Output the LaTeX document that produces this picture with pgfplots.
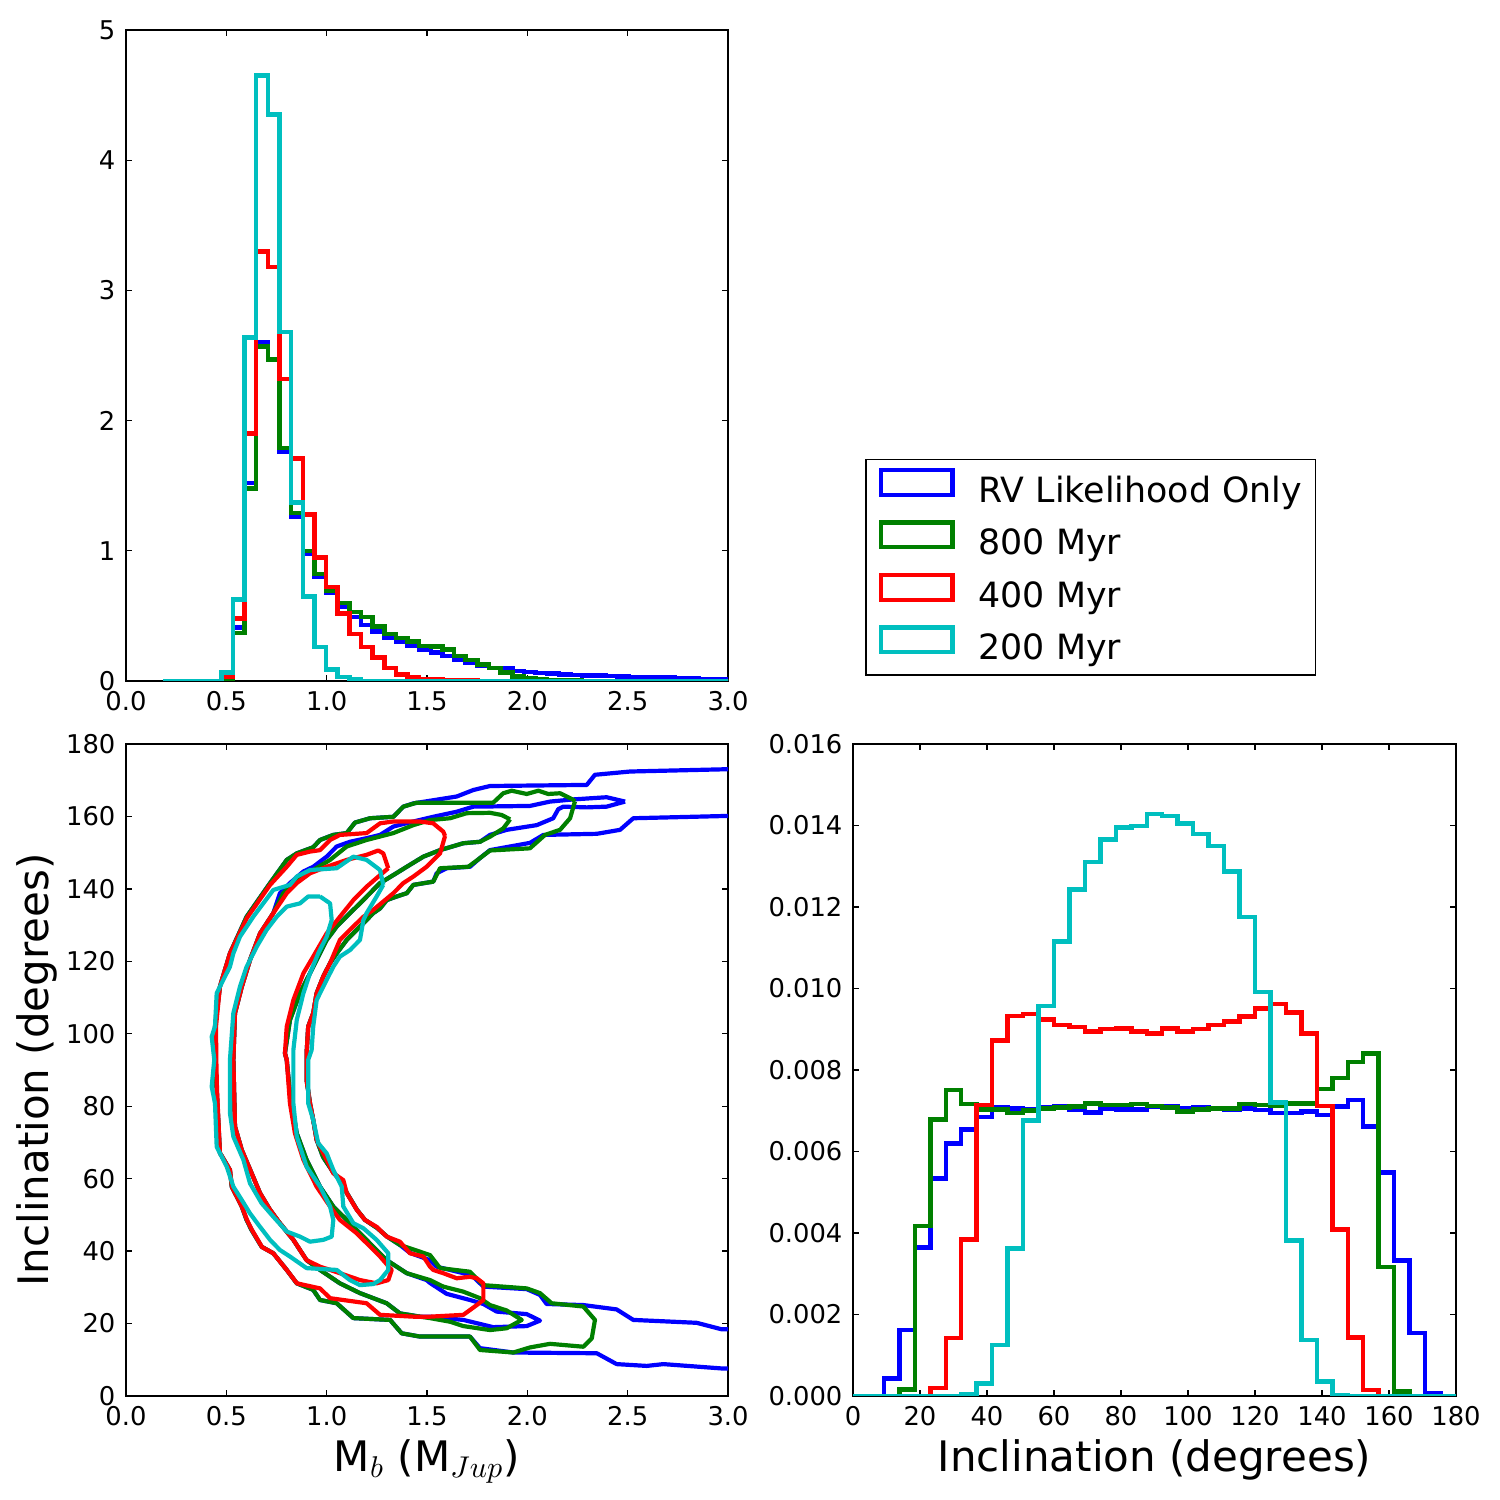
\documentclass[border=0pt]{standalone}
\usepackage{fontspec}
\setmainfont{DejaVu Sans}
\usepackage{pgfplots}
\usepackage{pgfplotstable}
\pgfplotsset{compat=1.18}
\definecolor{mblue}{rgb}{0,0,1}
\definecolor{mgreen}{rgb}{0,0.5,0}
\definecolor{mred}{rgb}{1,0,0}
\definecolor{mcyan}{rgb}{0,0.75,0.75}

\pgfplotstableread{
e b g r c
0.185 0 0 0 0
0.243 0 0 0 0
0.301 0 0 0 0
0.359 0 0 0 0
0.417 0 0 0 0
0.475 0.02 0.01 0.03 0.065
0.533 0.41 0.37 0.48 0.625
0.591 1.52 1.48 1.90 2.64
0.649 2.60 2.57 3.30 4.65
0.707 2.47 2.47 3.18 4.35
0.765 1.76 1.79 2.32 2.68
0.823 1.26 1.29 1.71 1.37
0.881 0.98 1.00 1.28 0.65
0.939 0.80 0.82 0.95 0.26
0.997 0.68 0.69 0.72 0.09
1.055 0.57 0.60 0.52 0.03
1.113 0.49 0.53 0.36 0.01
1.171 0.43 0.49 0.26 0
1.229 0.38 0.42 0.18 0
1.287 0.33 0.36 0.10 0
1.345 0.30 0.33 0.05 0
1.403 0.27 0.305 0.03 0
1.461 0.24 0.27 0.015 0
1.519 0.22 0.265 0.01 0
1.577 0.19 0.24 0.005 0
1.635 0.165 0.19 0.003 0
1.693 0.14 0.16 0.002 0
1.751 0.12 0.125 0.001 0
1.809 0.10 0.10 0 0
1.867 0.094 0.065 0 0
1.925 0.075 0.035 0 0
1.983 0.068 0.02 0 0
2.041 0.062 0.01 0 0
2.099 0.056 0.005 0 0
2.157 0.05 0.003 0 0
2.215 0.047 0.002 0 0
2.273 0.044 0.001 0 0
2.331 0.042 0.001 0 0
2.389 0.039 0 0 0
2.447 0.036 0 0 0
2.505 0.032 0 0 0
2.563 0.03 0 0 0
2.621 0.027 0 0 0
2.679 0.025 0 0 0
2.737 0.023 0 0 0
2.795 0.02 0 0 0
2.853 0.017 0 0 0
2.911 0.016 0 0 0
2.969 0.015 0 0 0
3.027 0 0 0 0
}\masstable

\pgfplotstableread{
e b g r c
0 0 0 0 0
4.615 0 0 0 0
9.231 0.00043 0 0 0
13.846 0.00162 0.00016 0 0
18.462 0.00365 0.00417 0 0
23.077 0.00534 0.00679 0.00019 0
27.692 0.00620 0.00751 0.00142 0
32.308 0.00654 0.00717 0.00384 0.00005
36.923 0.00685 0.00703 0.00714 0.00031
41.538 0.00708 0.00703 0.00872 0.00125
46.154 0.00706 0.00695 0.00933 0.00362
50.769 0.00703 0.00700 0.00937 0.00676
55.385 0.00708 0.00706 0.00924 0.00957
60.000 0.00710 0.00708 0.00910 0.01115
64.615 0.00703 0.00710 0.00906 0.01243
69.231 0.00696 0.00718 0.00894 0.01311
73.846 0.00706 0.00714 0.00900 0.01366
78.462 0.00703 0.00714 0.00902 0.01395
83.077 0.00703 0.00717 0.00894 0.01399
87.692 0.00710 0.00712 0.00890 0.01428
92.308 0.00710 0.00708 0.00902 0.01423
96.923 0.00706 0.00698 0.00894 0.01405
101.538 0.00708 0.00703 0.00900 0.01379
106.154 0.00706 0.00706 0.00910 0.01350
110.769 0.00703 0.00706 0.00919 0.01287
115.385 0.00706 0.00717 0.00931 0.01176
120.000 0.00702 0.00714 0.00951 0.00992
124.615 0.00694 0.00712 0.00962 0.00720
129.231 0.00694 0.00718 0.00941 0.00381
133.846 0.00698 0.00718 0.00890 0.00137
138.462 0.00690 0.00753 0.00712 0.00035
143.077 0.00710 0.00780 0.00409 0.00003
147.692 0.00726 0.00820 0.00144 0
152.308 0.00661 0.00841 0.00015 0
156.923 0.00548 0.00316 0 0
161.538 0.00332 0.00011 0 0
166.154 0.00155 0 0 0
170.769 0.00007 0 0 0
175.385 0 0 0 0
180 0 0 0 0
}\inctable

\pgfplotsset{
  every axis/.append style={
    scale only axis,
    axis line style={line width=0.45pt},
    tick style={black, line width=0.45pt},
    major tick length=2pt,
    tick align=inside,
    ticklabel style={font=\fontsize{8.6}{10}\selectfont},
    label style={font=\fontsize{14}{16}\selectfont},
    /pgf/number format/assume math mode=true,
    xlabel shift=-2.5pt,
    ylabel shift=-4pt,
  },
  hist/.style={const plot, line width=1.5pt, line join=miter},
  cont/.style={line width=1.4pt, line join=round},
}

\begin{document}
\begin{tikzpicture}
\path[use as bounding box] (0,0) rectangle (500pt,500pt);

% ---------- top left: mass histogram ----------
\begin{axis}[
  at={(42pt,273pt)}, anchor=south west,
  width=200.67pt, height=217pt,
  xmin=0, xmax=3, ymin=0, ymax=5,
  xtick={0,0.5,1,1.5,2,2.5,3}, ytick={0,1,2,3,4,5},
  xticklabel style={/pgf/number format/.cd, fixed, fixed zerofill, precision=1},
  legend style={at={(1.2276,0.341)}, anchor=north west, draw=black, line width=0.5pt,
    fill=white, font=\fontsize{11.6}{13}\selectfont, inner xsep=4.5pt, inner ysep=2.7pt,
    row sep=3.6pt, nodes={inner sep=0pt, text height=8.5pt, text depth=2.5pt},
    /tikz/every odd column/.append style={column sep=8pt}},
  legend cell align=left,
  legend image code/.code={\draw[#1, line width=1.4pt, fill=none] (0pt,-0.6pt) rectangle (23.7pt,7.7pt);},
]
\addplot[hist, mblue] table[x=e, y=b] {\masstable};
\addlegendentry{RV Likelihood Only}
\addplot[hist, mgreen] table[x=e, y=g] {\masstable};
\addlegendentry{800 Myr}
\addplot[hist, mred] table[x=e, y=r] {\masstable};
\addlegendentry{400 Myr}
\addplot[hist, mcyan] table[x=e, y=c] {\masstable};
\addlegendentry{200 Myr}
\end{axis}

% ---------- bottom left: contours ----------
\begin{axis}[
  at={(42pt,34.67pt)}, anchor=south west,
  width=200.67pt, height=217.33pt,
  xmin=0, xmax=3, ymin=0, ymax=180,
  xtick={0,0.5,1,1.5,2,2.5,3}, ytick={0,20,40,60,80,100,120,140,160,180},
  xticklabel style={/pgf/number format/.cd, fixed, fixed zerofill, precision=1},
  xlabel={M$_b$ (M$_{Jup}$)}, ylabel={Inclination (degrees)},
]
% blue outer (open at right edge)
\addplot[cont, mblue] coordinates {
(3.0,173.0) (2.969,173.0) (2.512,172.4) (2.337,171.5) (2.296,168.7) (1.814,168.4) (1.731,167.3) (1.648,165.5) (1.432,163.6) (1.382,162.7) (1.332,159.9) (1.216,159.5) (1.141,158.3) (1.100,155.4) (1.033,154.9) (0.967,153.5) (0.933,151.5) (0.851,149.8) (0.801,148.0) (0.718,141.6) (0.601,132.3) (0.518,122.2) (0.468,113.0) (0.4435,102.0) (0.445,92.8) (0.452,84.5) (0.468,67.1) (0.518,62.4) (0.527,57.8) (0.577,52.3) (0.601,48.6) (0.626,45.8) (0.676,41.2) (0.734,39.4) (0.801,34.8) (0.851,31.1) (0.933,29.3) (0.967,26.5) (1.050,25.6) (1.133,21.5) (1.316,21.0) (1.374,17.3) (1.465,16.4) (1.714,16.4) (1.764,13.2) (1.930,12.0) (2.346,11.8) (2.445,8.8) (2.595,8.3) (2.678,8.8) (2.969,7.6) (3.0,7.6)
};
\addplot[cont, mblue] coordinates {
(3.0,18.4) (2.969,18.4) (2.844,20.2) (2.528,21.0) (2.445,23.9) (2.279,25.1) (2.096,25.4) (2.063,27.9) (1.997,29.5) (1.781,30.2) (1.731,32.9) (1.681,33.9) (1.548,35.7) (1.515,37.5) (1.415,39.5) (1.365,41.7) (1.301,44.0) (1.251,46.4) (1.191,48.6) (1.151,51.4) (1.101,56.0) (1.066,59.6) (1.032,61.8) (0.982,66.0) (0.950,70.7) (0.933,76.2) (0.917,80.8) (0.900,87.2) (0.900,94.6) (0.908,102.0) (0.933,105.7) (0.950,111.2) (0.983,115.8) (1.017,119.5) (1.050,122.2) (1.100,125.9) (1.150,128.7) (1.199,131.4) (1.232,133.3) (1.266,134.6) (1.299,136.9) (1.349,137.9) (1.399,138.8) (1.432,141.1) (1.531,142.0) (1.548,144.3) (1.598,145.7) (1.714,146.1) (1.764,148.5) (1.814,150.7) (2.013,152.7) (2.080,154.9) (2.346,155.2) (2.462,156.3) (2.528,159.5) (2.969,160.1) (3.0,160.1)
};
% blue inner
\addplot[cont, mblue] coordinates {
(2.487,164.1) (2.395,165.3) (2.229,164.7) (2.113,164.1) (2.013,162.9) (1.731,162.7) (1.648,161.3) (1.531,159.9) (1.432,158.6) (1.332,157.2) (1.266,154.9) (1.199,154.0) (1.116,153.0) (1.050,151.7) (1.000,148.9) (0.933,146.1) (0.884,144.8) (0.817,141.6) (0.767,138.8) (0.734,133.3) (0.668,127.7) (0.618,120.4) (0.577,113.0) (0.543,105.7) (0.535,92.8) (0.543,74.4) (0.577,67.9) (0.626,61.5) (0.668,56.0) (0.718,51.4) (0.767,47.7) (0.834,43.1) (0.900,37.5) (0.967,34.8) (1.066,31.1) (1.166,28.4) (1.299,25.6) (1.365,22.8) (1.465,21.9) (1.515,21.9) (1.681,21.0) (1.830,19.0) (1.997,19.3) (2.063,20.8) (1.997,22.6) (1.847,23.3) (1.781,25.4) (1.714,26.5) (1.598,28.2) (1.515,31.2) (1.498,32.0) (1.399,33.9) (1.299,37.5) (1.232,41.2) (1.166,44.9) (1.100,48.6) (1.033,52.3) (0.967,57.8) (0.900,65.2) (0.851,72.5) (0.817,83.6) (0.801,92.8) (0.792,94.6) (0.817,103.8) (0.867,111.2) (0.933,118.5) (1.000,125.9) (1.050,129.6) (1.116,133.3) (1.166,136.0) (1.216,138.8) (1.266,141.6) (1.332,143.8) (1.399,146.1) (1.482,148.9) (1.565,150.7) (1.681,152.6) (1.764,153.0) (1.814,154.9) (1.897,156.3) (2.047,157.6) (2.129,159.5) (2.154,162.0) (2.179,162.7) (2.296,162.5) (2.395,162.7) (2.487,164.1)
};
% green outer
\addplot[cont, mgreen] coordinates {
(2.237,164.1) (2.229,164.6) (2.163,166.4) (2.104,166.2) (2.055,167.1) (1.997,166.2) (1.922,167.1) (1.880,166.4) (1.830,163.8) (1.515,163.8) (1.449,163.8) (1.382,162.7) (1.332,159.9) (1.216,159.5) (1.141,158.3) (1.100,155.4) (1.033,154.9) (0.967,153.5) (0.933,151.5) (0.851,149.8) (0.801,148.0) (0.718,141.6) (0.601,132.3) (0.518,122.2) (0.468,113.0) (0.4435,102.0) (0.445,92.8) (0.452,84.5) (0.468,67.1) (0.518,62.4) (0.527,57.8) (0.577,52.3) (0.601,48.6) (0.626,45.8) (0.676,41.2) (0.734,39.4) (0.801,34.8) (0.851,31.1) (0.933,29.3) (0.967,26.5) (1.050,25.6) (1.133,21.5) (1.316,21.0) (1.374,17.3) (1.465,16.4) (1.714,16.4) (1.764,12.7) (1.930,12.0) (2.013,13.4) (2.113,14.4) (2.279,13.6) (2.321,15.9) (2.337,21.0) (2.279,24.7) (2.121,25.6) (2.063,28.4) (1.997,29.7) (1.781,30.6) (1.714,34.3) (1.565,35.3) (1.515,38.9) (1.440,40.3) (1.365,41.7) (1.301,44.0) (1.251,46.4) (1.191,48.6) (1.151,51.4) (1.101,56.0) (1.066,59.6) (1.032,61.8) (0.982,66.0) (0.950,70.7) (0.933,76.2) (0.917,80.8) (0.900,87.2) (0.900,94.6) (0.908,102.0) (0.933,105.7) (0.950,111.2) (0.983,115.8) (1.017,119.5) (1.050,122.2) (1.100,125.9) (1.150,128.7) (1.199,131.4) (1.232,133.3) (1.266,134.6) (1.299,136.9) (1.349,137.9) (1.399,138.8) (1.432,141.1) (1.531,142.0) (1.565,145.7) (1.706,146.1) (1.764,148.5) (1.814,150.6) (2.013,151.2) (2.088,154.9) (2.163,156.3) (2.213,159.5) (2.237,164.1)
};
% green inner
\addplot[cont, mgreen] coordinates {
(1.914,159.2) (1.872,160.4) (1.814,161.0) (1.698,160.9) (1.615,159.5) (1.515,159.0) (1.432,157.6) (1.332,155.4) (1.199,153.5) (1.100,151.7) (1.017,148.0) (0.933,145.2) (0.851,142.5) (0.784,138.8) (0.734,133.3) (0.668,127.7) (0.618,120.4) (0.577,113.0) (0.543,105.7) (0.535,92.8) (0.543,74.4) (0.577,67.9) (0.626,61.5) (0.668,56.0) (0.718,51.4) (0.767,47.7) (0.834,43.1) (0.900,37.5) (0.967,34.8) (1.066,31.1) (1.166,28.4) (1.299,25.6) (1.365,22.8) (1.465,21.9) (1.515,21.5) (1.615,20.5) (1.681,19.3) (1.814,18.2) (1.897,18.7) (1.972,21.0) (1.897,23.6) (1.814,25.1) (1.764,27.0) (1.681,28.8) (1.581,30.2) (1.515,32.0) (1.399,33.9) (1.299,37.5) (1.232,41.2) (1.166,44.9) (1.100,48.6) (1.033,52.3) (0.967,57.8) (0.900,65.2) (0.851,72.5) (0.817,83.6) (0.801,92.8) (0.792,94.6) (0.817,103.8) (0.867,111.2) (0.933,118.5) (1.000,125.9) (1.050,129.6) (1.116,133.3) (1.166,136.0) (1.216,138.8) (1.266,141.6) (1.332,143.8) (1.399,146.1) (1.482,148.9) (1.565,150.7) (1.681,152.6) (1.764,153.0) (1.814,154.4) (1.880,156.7) (1.914,159.2)
};
% red outer
\addplot[cont, mred] coordinates {
(1.590,154.6) (1.581,155.8) (1.531,158.1) (1.465,158.6) (1.332,158.6) (1.266,158.1) (1.199,155.4) (1.066,154.9) (1.017,153.5) (0.967,150.7) (0.917,150.3) (0.851,149.4) (0.801,146.1) (0.718,141.1) (0.603,132.0) (0.518,122.2) (0.468,113.0) (0.4485,102.0) (0.450,92.8) (0.4535,84.5) (0.468,67.1) (0.518,62.4) (0.528,57.7) (0.578,52.2) (0.603,48.6) (0.628,45.8) (0.678,41.1) (0.734,39.4) (0.801,34.8) (0.852,31.1) (0.967,29.7) (1.017,27.0) (1.199,25.6) (1.266,22.4) (1.432,21.9) (1.515,21.9) (1.681,22.4) (1.748,25.1) (1.781,26.5) (1.781,31.1) (1.748,32.5) (1.714,32.9) (1.648,32.5) (1.581,33.9) (1.531,34.8) (1.515,35.7) (1.482,38.5) (1.415,39.4) (1.365,42.6) (1.299,44.0) (1.249,46.7) (1.191,48.6) (1.150,51.4) (1.100,56.0) (1.083,59.6) (1.033,61.5) (1.000,65.2) (0.967,68.8) (0.950,70.7) (0.933,76.2) (0.917,80.8) (0.900,87.2) (0.900,94.6) (0.908,102.0) (0.933,105.7) (0.950,111.2) (0.983,115.8) (1.017,119.5) (1.066,125.9) (1.116,128.7) (1.183,132.3) (1.232,134.2) (1.282,136.5) (1.332,138.8) (1.382,141.6) (1.432,143.4) (1.498,146.1) (1.565,149.8) (1.590,154.6)
};
% red inner
\addplot[cont, mred] coordinates {
(1.307,145.7) (1.282,149.8) (1.257,150.6) (1.199,149.4) (1.100,148.0) (1.000,146.1) (0.917,144.3) (0.851,141.6) (0.801,138.8) (0.734,133.3) (0.668,127.7) (0.618,120.4) (0.577,113.0) (0.543,105.7) (0.535,92.8) (0.543,74.4) (0.577,67.9) (0.626,61.5) (0.668,56.0) (0.718,51.4) (0.767,47.7) (0.834,43.1) (0.900,37.5) (0.967,35.7) (1.066,33.9) (1.166,32.0) (1.249,31.1) (1.307,32.0) (1.324,34.8) (1.266,38.5) (1.199,42.2) (1.150,44.9) (1.066,48.6) (1.017,52.3) (0.950,57.8) (0.884,65.2) (0.842,72.5) (0.817,80.8) (0.801,92.8) (0.792,94.6) (0.801,102.0) (0.834,109.3) (0.884,116.7) (0.933,121.3) (1.000,127.7) (1.066,132.3) (1.133,136.9) (1.199,140.6) (1.266,143.8) (1.307,145.7)
};
% cyan outer
\addplot[cont, mcyan] coordinates {
(1.282,141.1) (1.266,145.2) (1.199,148.0) (1.133,148.9) (1.050,145.7) (0.917,145.2) (0.851,143.4) (0.817,141.1) (0.734,139.7) (0.684,136.0) (0.634,132.3) (0.568,126.8) (0.535,122.2) (0.518,118.5) (0.485,114.9) (0.452,111.2) (0.4435,102.0) (0.427,99.2) (0.440,92.8) (0.427,85.4) (0.4435,80.8) (0.452,68.8) (0.502,63.3) (0.535,57.8) (0.577,54.1) (0.618,50.4) (0.668,46.7) (0.718,43.1) (0.767,40.3) (0.817,38.5) (0.900,35.3) (1.050,34.8) (1.116,32.0) (1.166,30.6) (1.232,30.9) (1.266,32.0) (1.307,34.8) (1.307,39.4) (1.249,43.1) (1.183,46.3) (1.133,47.7) (1.083,52.3) (1.075,57.8) (1.033,62.4) (1.000,67.0) (0.958,69.8) (0.933,76.2) (0.908,80.8) (0.908,92.8) (0.925,95.5) (0.933,102.0) (0.950,109.3) (0.983,113.0) (1.033,118.5) (1.066,121.3) (1.116,123.1) (1.166,125.9) (1.183,131.4) (1.199,133.3) (1.249,137.9) (1.282,141.1)
};
% cyan inner
\addplot[cont, mcyan] coordinates {
(0.967,137.9) (0.908,137.9) (0.867,136.0) (0.801,135.1) (0.751,132.3) (0.701,128.7) (0.651,124.0) (0.601,118.5) (0.568,113.0) (0.535,105.7) (0.518,92.8) (0.518,78.1) (0.535,71.6) (0.585,65.2) (0.618,58.7) (0.676,53.2) (0.734,49.5) (0.801,45.4) (0.867,44.0) (0.917,42.6) (0.983,43.1) (1.025,44.0) (1.033,48.6) (1.017,52.3) (0.967,57.8) (0.900,63.3) (0.851,71.6) (0.834,80.8) (0.834,92.8) (0.834,95.5) (0.851,103.8) (0.884,111.2) (0.917,116.7) (0.958,122.2) (1.000,126.8) (1.025,131.4) (1.017,136.0) (0.967,137.9)
};
\end{axis}

% ---------- bottom right: inclination histogram ----------
\begin{axis}[
  at={(284.33pt,34.67pt)}, anchor=south west,
  width=201pt, height=217.33pt,
  xmin=0, xmax=180, ymin=0, ymax=0.016,
  xtick={0,20,40,60,80,100,120,140,160,180},
  ytick={0,0.002,0.004,0.006,0.008,0.010,0.012,0.014,0.016},
  scaled y ticks=false,
  yticklabel style={/pgf/number format/.cd, fixed, fixed zerofill, precision=3},
  xlabel={Inclination (degrees)},
]
\addplot[hist, mblue] table[x=e, y=b] {\inctable};
\addplot[hist, mgreen] table[x=e, y=g] {\inctable};
\addplot[hist, mred] table[x=e, y=r] {\inctable};
\addplot[hist, mcyan] table[x=e, y=c] {\inctable};
\end{axis}
\end{tikzpicture}
\end{document}
